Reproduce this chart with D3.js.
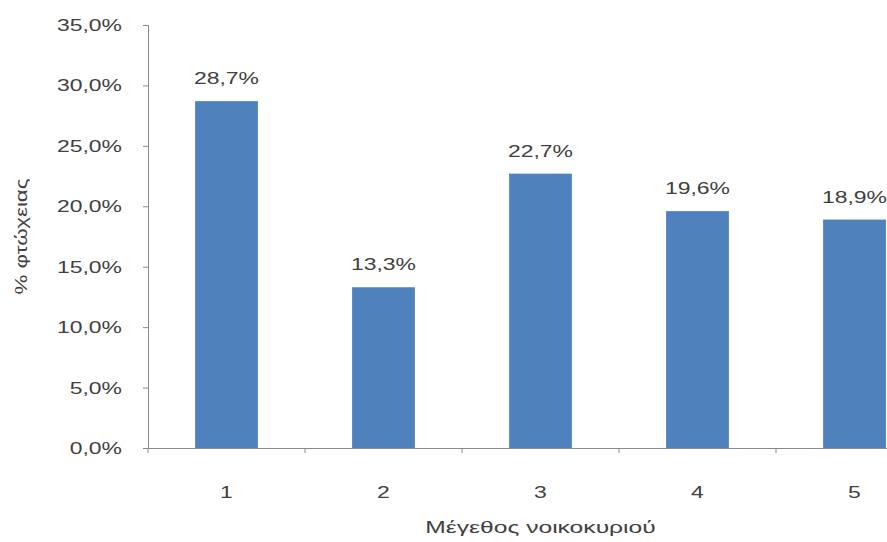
<!DOCTYPE html>
<html><head><meta charset="utf-8">
<script src="https://cdn.jsdelivr.net/npm/d3@7"></script>
<style>body{margin:0;background:#fff}svg{display:block;font-family:"Liberation Sans",Arial,sans-serif}</style>
</head><body><svg id="c" width="887" height="542"></svg>
<script>
const categories = ["1","2","3","4","5"];
const values = [28.7, 13.3, 22.7, 19.6, 18.9];
const yTicks = [0,5,10,15,20,25,30,35];
const xTitle = "Μέγεθος νοικοκυριού";
const yTitle = "% φτώχειας";

(function(){
const svg = d3.select("#c");
const mLeft = 148, mRight = 933, mTop = 25, mBottom = 448;
const S = 1.35; // horizontal stretch of text
const fmt = v => v.toFixed(1).replace(".", ",") + "%";

const x = d3.scaleBand().domain(categories).range([mLeft, mRight]).paddingInner(0.6).paddingOuter(0.3);
const y = d3.scaleLinear().domain([0, 35]).range([mBottom, mTop]);

// bars
svg.append("g").selectAll("rect").data(values).join("rect")
  .attr("x", (d,i) => x(categories[i]))
  .attr("y", d => y(d))
  .attr("width", x.bandwidth())
  .attr("height", d => y(0) - y(d))
  .attr("fill", "#4F81BD");

// value labels
svg.append("g").selectAll("text").data(values).join("text")
  .attr("x", (d,i) => (x(categories[i]) + x.bandwidth()/2) / S)
  .attr("y", d => y(d) - 17)
  .attr("transform", `scale(${S},1)`)
  .attr("text-anchor", "middle")
  .attr("font-size", 17)
  .attr("fill", "#404040")
  .text(fmt);

// y axis
const ya = svg.append("g").attr("transform", `translate(${mLeft},0)`)
  .call(d3.axisLeft(y).tickValues(yTicks).tickFormat(fmt).tickSize(5).tickPadding(21));
ya.select(".domain").attr("stroke", "#898989");
ya.selectAll(".tick line").attr("stroke", "#898989");
ya.selectAll("text").attr("font-size", 17).attr("fill", "#404040")
  .attr("font-family", "'Liberation Sans',Arial,sans-serif")
  .attr("x", -26 / S).attr("transform", `scale(${S},1)`);

// x axis
const xa = svg.append("g").attr("transform", `translate(0,${mBottom})`)
  .call(d3.axisBottom(x).tickSize(0).tickPadding(38));
xa.select(".domain").attr("stroke", "#898989");
xa.selectAll("text").attr("font-size", 17).attr("fill", "#404040")
  .attr("font-family", "'Liberation Sans',Arial,sans-serif")
  .attr("transform", `scale(${S},1)`);
xa.selectAll(".tick").each(function(){
  const t = d3.select(this);
  const tx = +t.attr("transform").match(/translate\(([-\d.]+)/)[1];
  t.attr("transform", null);
  t.select("text").attr("x", tx / S);
});
const step = x.step();
xa.append("g").selectAll("line").data(d3.range(categories.length + 1)).join("line")
  .attr("x1", i => mLeft + i*step).attr("x2", i => mLeft + i*step)
  .attr("y1", 0).attr("y2", 5).attr("stroke", "#898989");

// titles
svg.append("text").attr("x", (mLeft+mRight)/2 / 1.45).attr("y", 533).attr("text-anchor","middle")
  .attr("transform", "scale(1.45,1)")
  .attr("font-size", 17).attr("fill","#404040").text(xTitle);
svg.append("text").attr("transform", `translate(27,${(mTop+mBottom)/2}) rotate(-90) scale(1.4,1)`)
  .attr("text-anchor","middle").attr("font-size", 16).attr("fill","#404040").text(yTitle);
})();
</script></body></html>
